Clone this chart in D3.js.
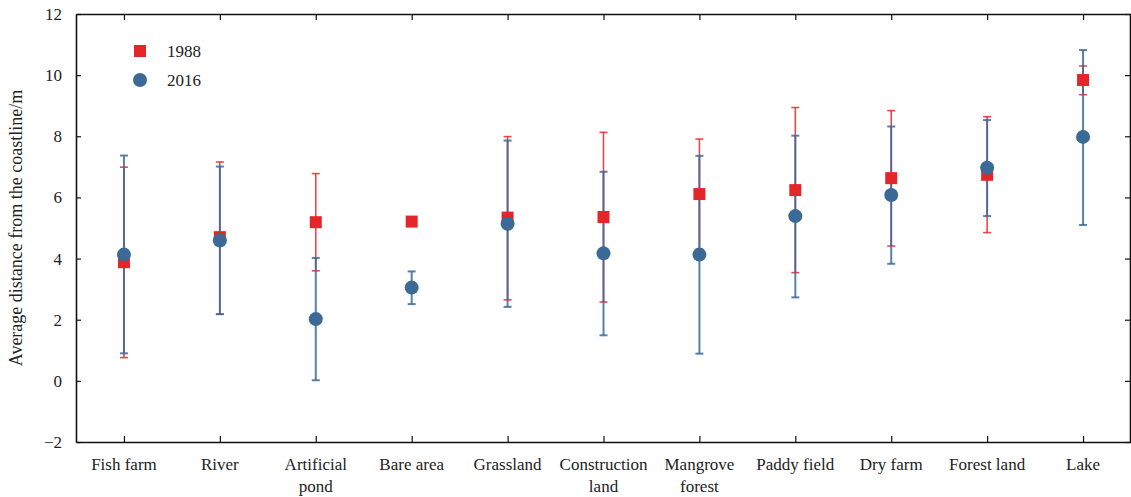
<!DOCTYPE html>
<html lang="en">
<head>
<meta charset="UTF-8">
<title>Average distance from the coastline</title>
<script src="https://d3js.org/d3.v7.min.js"></script>
<style>
  body { margin: 0; background: #fff; }
  svg text { font-family: "Liberation Serif", "Times New Roman", serif; fill: #222; }
</style>
</head>
<body>
<div id="chart"></div>
<script>
// land-use classes
const categories = ["Fish farm", "River", "Artificial pond", "Bare area", "Grassland",
  "Construction land", "Mangrove forest", "Paddy field", "Dry farm", "Forest land", "Lake"];
const tickLabels = [["Fish farm"], ["River"], ["Artificial", "pond"], ["Bare area"], ["Grassland"],
  ["Construction", "land"], ["Mangrove", "forest"], ["Paddy field"], ["Dry farm"], ["Forest land"], ["Lake"]];

// 1988 mean and error bar ends
const mean1988 = [3.88, 4.70, 5.19, 5.21, 5.34, 5.36, 6.11, 6.24, 6.63, 6.74, 9.84];
const low1988  = [0.76, 2.18, 3.60, 5.21, 2.65, 2.58, 4.30, 3.54, 4.41, 4.85, 9.36];
const high1988 = [6.99, 7.16, 6.78, 5.21, 7.99, 8.13, 7.91, 8.94, 8.84, 8.64, 10.30];

// 2016 mean and error bar ends
const mean2016 = [4.13, 4.59, 2.02, 3.05, 5.14, 4.17, 4.13, 5.39, 6.08, 6.97, 7.98];
const low2016  = [0.90, 2.18, 0.02, 2.51, 2.42, 1.49, 0.89, 2.73, 3.83, 5.39, 5.10];
const high2016 = [7.37, 7.01, 4.02, 3.58, 7.86, 6.84, 7.36, 8.02, 8.32, 8.53, 10.82];

const yTicks = [-2, 0, 2, 4, 6, 8, 10, 12];

const width = 1131, height = 497;
const margin = { top: 14, right: 0, bottom: 55, left: 76 };
const red = "#e4262a", blue = "#3c6a96";

const svg = d3.select("#chart").append("svg")
  .attr("width", width)
  .attr("height", height);

const x = d3.scalePoint()
  .domain(categories)
  .range([margin.left, width - margin.right])
  .padding(0.5);

const y = d3.scaleLinear()
  .domain([-2, 12])
  .range([height - margin.bottom, margin.top]);

const x0 = margin.left, x1 = width - margin.right;
const y0 = height - margin.bottom, y1 = margin.top;

// frame: axes on all four sides, ticks inward
const bottomAxis = svg.append("g")
  .attr("transform", `translate(0,${y0})`)
  .call(d3.axisBottom(x).tickSizeInner(-6).tickSizeOuter(0).tickFormat(""));
const topAxis = svg.append("g")
  .attr("transform", `translate(0,${y1})`)
  .call(d3.axisTop(x).tickSizeInner(-6).tickSizeOuter(0).tickFormat(""));
const leftAxis = svg.append("g")
  .attr("transform", `translate(${x0},0)`)
  .call(d3.axisLeft(y).tickValues(yTicks).tickSizeInner(-5).tickSizeOuter(0)
    .tickFormat(d => d < 0 ? "\u2212" + Math.abs(d) : d));
const rightAxis = svg.append("g")
  .attr("transform", `translate(${x1 - 1},0)`)
  .call(d3.axisRight(y).tickValues(yTicks).tickSizeInner(-5).tickSizeOuter(0).tickFormat(""));

[bottomAxis, topAxis, leftAxis, rightAxis].forEach(g => {
  g.selectAll(".domain").attr("stroke", "#111").attr("stroke-width", 1.6);
  g.selectAll(".tick line").attr("stroke", "#111").attr("stroke-width", 1.2);
});

leftAxis.selectAll(".tick text")
  .attr("x", -14)
  .style("font-size", "17px")
  .style("font-family", "Liberation Serif, serif")
  .attr("fill", "#222");

// multi-line category labels
svg.append("g").selectAll("text")
  .data(categories)
  .join("text")
  .attr("x", d => x(d))
  .attr("y", y0 + 28)
  .attr("text-anchor", "middle")
  .style("font-size", "17px")
  .each(function(d, i) {
    d3.select(this).selectAll("tspan")
      .data(tickLabels[i])
      .join("tspan")
      .attr("x", x(d))
      .attr("dy", (t, j) => j === 0 ? 0 : 22)
      .text(t => t);
  });

// y axis title
svg.append("text")
  .attr("transform", `translate(22,${(y0 + y1) / 2}) rotate(-90)`)
  .attr("text-anchor", "middle")
  .style("font-size", "18px")
  .text("Average distance from the coastline/m");

// error bars
function errorBars(low, high, color, lw, op) {
  const g = svg.append("g")
    .attr("stroke", color)
    .attr("stroke-opacity", op)
    .attr("stroke-width", lw);
  categories.forEach((c, i) => {
    if (high[i] - low[i] < 0.01) return;
    const cx = x(c);
    g.append("line").attr("x1", cx).attr("x2", cx).attr("y1", y(low[i])).attr("y2", y(high[i]));
    [low[i], high[i]].forEach(v => {
      g.append("line").attr("x1", cx - 4).attr("x2", cx + 4).attr("y1", y(v)).attr("y2", y(v));
    });
  });
}
errorBars(low1988, high1988, "#e8282c", 1.6, 0.85);
errorBars(low2016, high2016, "#3c6a96", 2, 0.85);

// markers
const sq = 12;
svg.append("g").selectAll("rect")
  .data(categories)
  .join("rect")
  .attr("x", (d, i) => x(d) - sq / 2)
  .attr("y", (d, i) => y(mean1988[i]) - sq / 2)
  .attr("width", sq)
  .attr("height", sq)
  .attr("fill", red);

svg.append("g").selectAll("circle")
  .data(categories)
  .join("circle")
  .attr("cx", d => x(d))
  .attr("cy", (d, i) => y(mean2016[i]))
  .attr("r", 7)
  .attr("fill", blue);

// legend
const legend = svg.append("g");
legend.append("rect")
  .attr("x", 140 - sq / 2).attr("y", 51 - sq / 2)
  .attr("width", sq).attr("height", sq)
  .attr("fill", red);
legend.append("circle")
  .attr("cx", 140).attr("cy", 80).attr("r", 7)
  .attr("fill", blue);
legend.append("text").attr("x", 167).attr("y", 57).style("font-size", "17px").text("1988");
legend.append("text").attr("x", 167).attr("y", 86).style("font-size", "17px").text("2016");
</script>
</body>
</html>
